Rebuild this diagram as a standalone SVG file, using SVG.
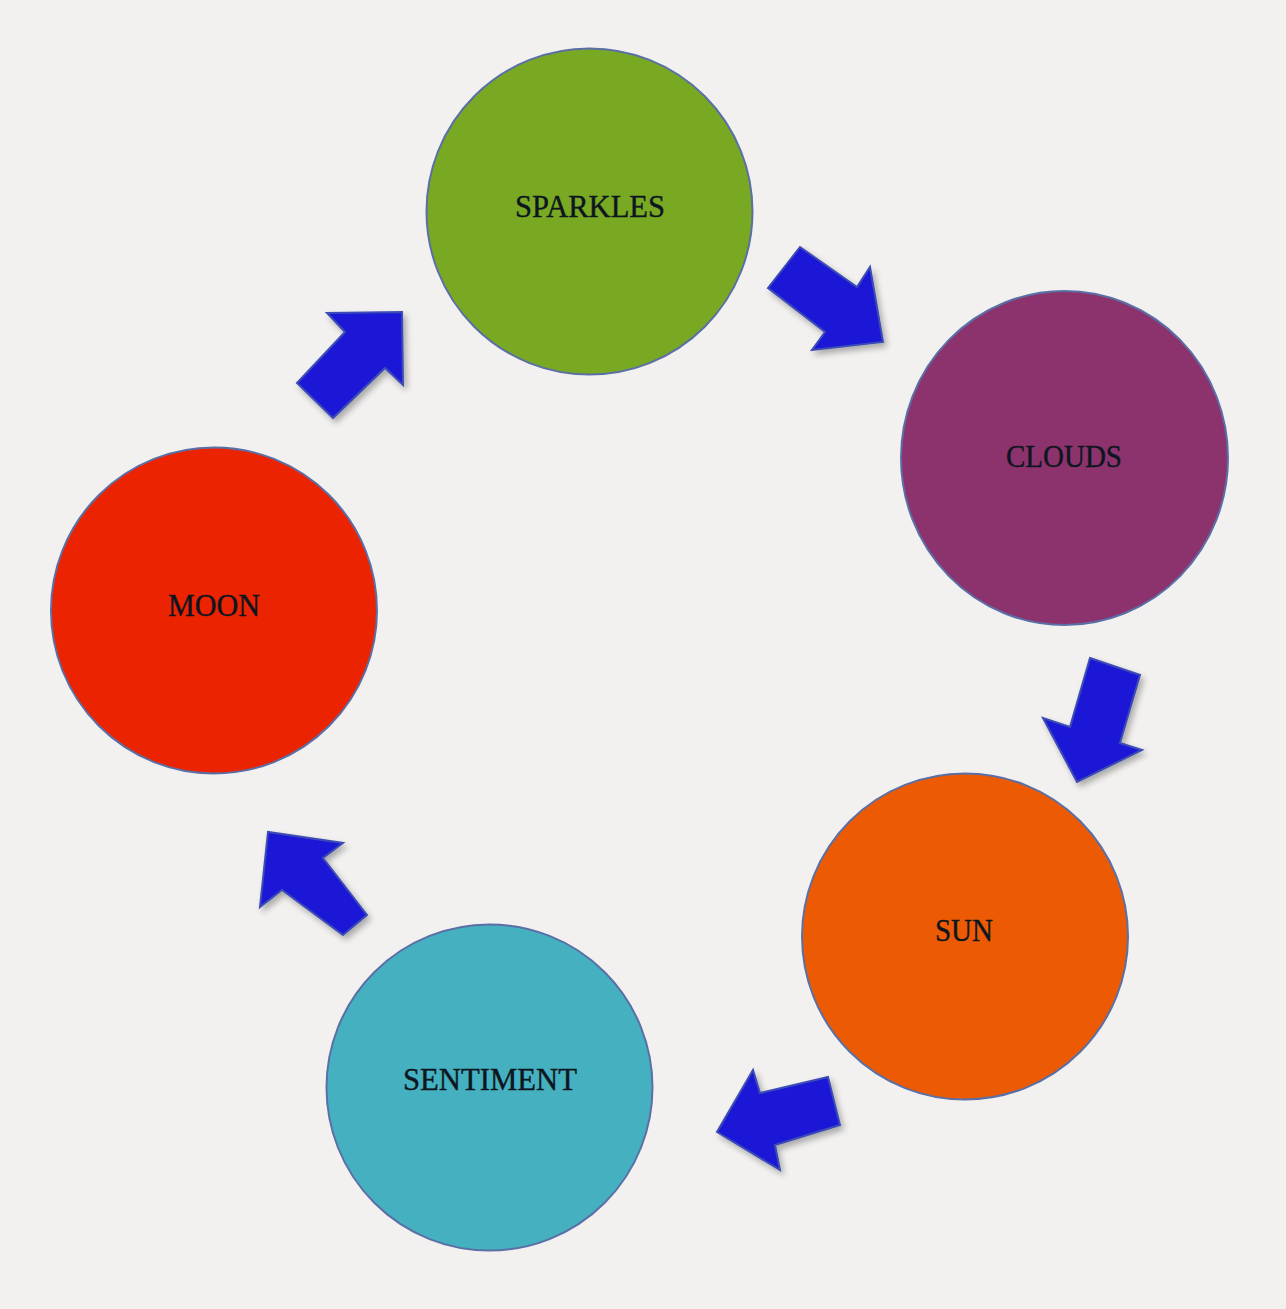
<svg xmlns="http://www.w3.org/2000/svg" width="1286" height="1309" viewBox="0 0 1286 1309">
<defs>
<filter id="sh" x="-20%" y="-20%" width="150%" height="150%">
<feGaussianBlur in="SourceAlpha" stdDeviation="3"/>
<feOffset dx="3" dy="4" result="b"/>
<feComponentTransfer><feFuncA type="linear" slope="0.3"/></feComponentTransfer>
<feMerge><feMergeNode/><feMergeNode in="SourceGraphic"/></feMerge>
</filter>
<style>
.node{stroke:#5a6fa6;stroke-width:2}
.lbl{font-family:"Liberation Serif","Times New Roman",serif;font-size:31px;fill:#0d1620;stroke:#0d1620;stroke-width:0.4;text-anchor:middle}
.arr{fill:#1c19d6;stroke:#3d4cb5;stroke-width:2;stroke-linejoin:miter;filter:url(#sh)}
</style>
</defs>
<rect width="1286" height="1309" fill="#f2f1f0"/>
<g id="sparkles"><circle class="node" cx="589.5" cy="211.5" r="163" fill="#79a923"/><text class="lbl" x="590" y="217" textLength="150" lengthAdjust="spacingAndGlyphs">SPARKLES</text></g>
<g id="clouds"><ellipse class="node" cx="1064.5" cy="458" rx="163.5" ry="167" fill="#8c336e"/><text class="lbl" x="1064" y="467" textLength="116" lengthAdjust="spacingAndGlyphs">CLOUDS</text></g>
<g id="sun"><circle class="node" cx="965" cy="936.5" r="163" fill="#ec5b04"/><text class="lbl" x="964" y="941" textLength="58" lengthAdjust="spacingAndGlyphs">SUN</text></g>
<g id="sentiment"><circle class="node" cx="489.5" cy="1087.5" r="163" fill="#45b0bf"/><text class="lbl" x="490" y="1090" textLength="174" lengthAdjust="spacingAndGlyphs">SENTIMENT</text></g>
<g id="moon"><circle class="node" cx="214" cy="610.5" r="163" fill="#ec2300"/><text class="lbl" x="214" y="616" textLength="92" lengthAdjust="spacingAndGlyphs">MOON</text></g>
<g id="connectors">
<polygon class="arr" points="800,247 857,287 870,267 883,342 812,350 825,332 768,288"/>
<polygon class="arr" points="1090,658 1140,675 1120,743 1142,750 1077,782 1043,718 1070,727"/>
<polygon class="arr" points="828,1077 840,1125 775,1145 780,1170 717,1132 753,1070 760,1093"/>
<polygon class="arr" points="367,915 343,935 282,890 260,907 268,832 343,843 323,858"/>
<polygon class="arr" points="297,383 345,332 327,313 402,312 403,385 385,368 333,418"/>
</g>
</svg>
